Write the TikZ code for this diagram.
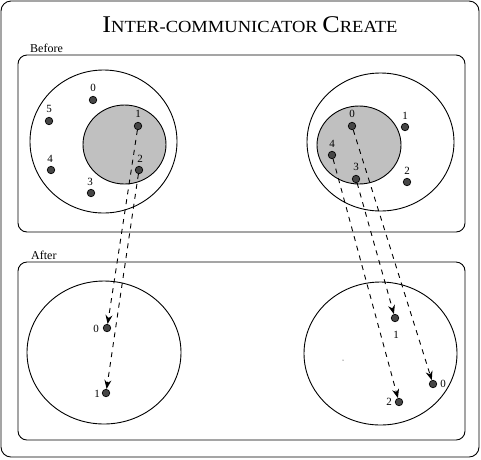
\documentclass[tikz,border=0pt]{standalone}
\usepackage{fontspec}
\setmainfont{Liberation Serif}
\usetikzlibrary{arrows.meta}
\begin{document}
\begin{tikzpicture}[x=1pt,y=-1pt,
  frame/.style={draw,line width=0.9pt,rounded corners=10pt},
  panel/.style={draw,line width=0.9pt,rounded corners=9pt},
  ring/.style={draw,line width=0.9pt},
  core/.style={draw,line width=0.9pt,fill={rgb,255:red,192;green,192;blue,192}},
  proc/.style={circle,draw=black,line width=0.7pt,fill={rgb,255:red,70;green,70;blue,70},inner sep=0pt,minimum size=7.5pt},
  lbl/.style={font=\fontsize{11}{11}\selectfont,inner sep=0pt},
  sect/.style={font=\fontsize{12}{12}\selectfont,inner sep=0pt,anchor=west},
  move/.style={dashed,dash pattern=on 5pt off 5pt,line width=0.9pt,-{Stealth[length=9pt,width=7pt,inset=3pt]}}]
\useasboundingbox (0,0) rectangle (481,459);
\draw[frame] (1,1) rectangle (479,457);
\node[inner sep=0pt] (title) at (250,25) {\scalebox{1.09}[1]{\fontsize{24}{24}\selectfont I\fontsize{17}{17}\selectfont NTER-COMMUNICATOR \fontsize{24}{24}\selectfont C\fontsize{17}{17}\selectfont REATE}};
\node[sect] (before) at (30,48) {Before};
\node[sect] (after) at (31,255) {After};
\draw[panel] (18,55) rectangle (465,232);
\draw[panel] (18,262) rectangle (465,440);
% before left
\draw[ring] (103.5,141.5) ellipse [x radius=73.5,y radius=71.5];
\draw[core] (124.5,144.5) ellipse [x radius=41.5,y radius=39.5];
% before right
\draw[ring] (380.5,142) ellipse [x radius=73.5,y radius=69];
\draw[core] (359,145) ellipse [x radius=42,y radius=39];
% after circles
\draw[ring] (104,352.5) ellipse [x radius=77,y radius=71.5];
\draw[ring] (380.5,353.5) ellipse [x radius=76.5,y radius=71.5];
% before left processes
\node[proc] (a0) at (93,100) {}; \node[lbl] at (93,88) {0};
\node[proc] (a5) at (49,121) {}; \node[lbl] at (49,109) {5};
\node[proc] (a1) at (138,126) {}; \node[lbl] at (138,114) {1};
\node[proc] (a4) at (51,170) {}; \node[lbl] at (50,159) {4};
\node[proc] (a2) at (139,170) {}; \node[lbl] at (140,159) {2};
\node[proc] (a3) at (91,193) {}; \node[lbl] at (90,182) {3};
% before right processes
\node[proc] (b0) at (352,126) {}; \node[lbl] at (352,114) {0};
\node[proc] (b1) at (405,127) {}; \node[lbl] at (405,116) {1};
\node[proc] (b4) at (332,155) {}; \node[lbl] at (332,144) {4};
\node[proc] (b3) at (356,179) {}; \node[lbl] at (356,167) {3};
\node[proc] (b2) at (407,182) {}; \node[lbl] at (407,171) {2};
% after left
\node[proc] (c0) at (107,328) {}; \node[lbl] at (96,329) {0};
\node[proc] (c1) at (106,393) {}; \node[lbl] at (97,394) {1};
% after right
\node[proc] (d1) at (395,318) {}; \node[lbl] at (396,335) {1};
\node[proc] (d0) at (433,384) {}; \node[lbl] at (443,384) {0};
\node[proc] (d2) at (399,402) {}; \node[lbl] at (389,402) {2};
\fill (343,360) circle (0.5pt);
% moves
\draw[move] (a1) -- (c0);
\draw[move] (a2) -- (c1);
\draw[move] (b0) -- (d0);
\draw[move] (b3) -- (d1);
\draw[move] (b4) -- (d2);
\end{tikzpicture}
\end{document}
